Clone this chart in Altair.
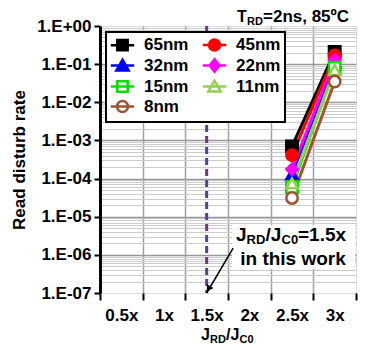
import altair as alt
import pandas as pd

FONT = "Liberation Sans"

# ---------------- data ----------------
categories = ["0.5x", "1x", "1.5x", "2x", "2.5x", "3x"]
series = ["65nm", "45nm", "32nm", "22nm", "15nm", "11nm", "8nm"]
colors = ["#000000", "#ff0000", "#0000ff", "#ff00ff", "#00e000", "#92d050", "#a0522d"]
shapes = ["square", "circle", "triangle-up", "diamond", "square", "triangle-up", "circle"]
hollow = [False, False, False, False, True, True, True]
x_points = ["2.5x", "3x"]
rate_25x = [7.0e-4, 4.1e-4, 1.3e-4, 1.75e-4, 6.0e-5, 7.5e-5, 3.1e-5]
rate_3x = [0.21, 0.17, 0.113, 0.128, 0.079, 0.070, 0.035]
y_decades = [1e0, 1e-1, 1e-2, 1e-3, 1e-4, 1e-5, 1e-6, 1e-7]
y_labels = ["1.E+00", "1.E-01", "1.E-02", "1.E-03", "1.E-04", "1.E-05", "1.E-06", "1.E-07"]
marker_x = "1.5x"
arrow_x = [3.12, 2.5]
arrow_y = [1.5e-6, 1e-7]

# ---------------- tables ----------------
rows = []
for s, c, h, r1, r2 in zip(series, colors, hollow, rate_25x, rate_3x):
    for xc, r in zip(x_points, [r1, r2]):
        rows.append({"series": s, "xpos": categories.index(xc) + 0.5, "rate": r})
df = pd.DataFrame(rows)

n_cat = len(categories)
x_vals = list(range(n_cat + 1))
x_label_expr = "''"
for i in reversed(range(n_cat)):
    x_label_expr = f"datum.value == {i} ? '{categories[i]}' : " + x_label_expr

y_vals = [1e0]
for d in y_decades[1:]:
    y_vals += [k * d for k in range(1, 10)]
y_label_expr = "''"
for d, lab in zip(reversed(y_decades), reversed(y_labels)):
    y_label_expr = f"abs(datum.value - {d}) < {d * 1e-6} ? '{lab}' : " + y_label_expr
is_decade = "abs(log(datum.value)/LN10 - round(log(datum.value)/LN10)) < 1e-6"

W, H = 256, 267
x_scale = alt.Scale(domain=[0, n_cat], nice=False, zero=False)
y_scale = alt.Scale(type="log", domain=[y_decades[-1], y_decades[0]], nice=False)

x_axis = alt.Axis(
    values=x_vals, labelExpr=x_label_expr, title=None, domain=False,
    labelFont=FONT, labelFontSize=17, labelFontWeight="bold", labelColor="black",
    labelOffset=W / n_cat / 2, labelPadding=7, labelOverlap=False, labelBound=False, labelFlush=False,
    ticks=True, tickColor="black", tickWidth=2, tickSize=7, tickOpacity=1,
    grid=True, gridColor="#a0a0a0", gridWidth=1.5,
    gridOpacity={"condition": {"test": f"datum.value > 0 && datum.value < {n_cat}", "value": 1},
                 "value": 0},
)
y_axis = alt.Axis(
    values=y_vals, labelExpr=y_label_expr, title="Read disturb rate",
    titleFont=FONT, titleFontSize=17, titleFontWeight="bold", titleColor="black", titlePadding=8,
    labelFont=FONT, labelFontSize=17, labelFontWeight="bold", labelColor="black",
    labelPadding=3, labelOverlap=False, labelBound=False, labelFlush=False,
    domain=True, domainColor="black", domainWidth=3,
    tickColor="black", tickWidth=2, tickSize=6,
    tickOpacity={"condition": {"test": is_decade, "value": 1}, "value": 0},
    grid=True,
    gridColor={"condition": {"test": is_decade, "value": "#999999"}, "value": "#cccccc"},
    gridWidth={"condition": {"test": is_decade, "value": 1.5}, "value": 1},
    gridOpacity={"condition": {"test": "datum.value < 0.999 && datum.value > 1.001e-7", "value": 1},
                 "value": 0},
)

# legend symbols: line + marker drawn as one custom path
paths = {
    "square": "M-0.8,-0.8H0.8V0.8H-0.8Z",
    "circle": "M-0.85,0A0.85,0.85,0,1,0,0.85,0A0.85,0.85,0,1,0,-0.85,0Z",
    "triangle-up": "M0,-0.9L0.95,0.75H-0.95Z",
    "diamond": "M0,-0.95L0.75,0L0,0.95L-0.75,0Z",
}
leg_paths = ["M-1.8,0H1.8" + paths[s] for s in shapes]
leg_fill = ["white" if h else c for h, c in zip(hollow, colors)]

legend = alt.Legend(
    title=None, orient="none", legendX=6, legendY=6, columns=2, direction="horizontal",
    padding=4, rowPadding=-2, columnPadding=8, symbolOffset=4, labelOffset=13,
    symbolSize=169, symbolStrokeWidth=2.5, symbolOpacity=1,
    labelFont=FONT, labelFontSize=17, labelFontWeight="bold", labelColor="black",
    labelExpr="datum.label == '8nm' ? '\u00a08nm\u00a0\u00a0' : datum.label + '\u00a0\u00a0'",
    strokeColor="black", fillColor="white",
)
stroke_scale = alt.Scale(domain=series, range=colors)

one = pd.DataFrame({"k": [0]})

lines = alt.Chart(df).mark_line(strokeWidth=3).encode(
    x=alt.X("xpos:Q", scale=x_scale, axis=x_axis),
    y=alt.Y("rate:Q", scale=y_scale, axis=y_axis),
    stroke=alt.Stroke("series:N", scale=stroke_scale, legend=legend),
    order="xpos:Q",
)

point_layers = []
for s, c, h, shp in zip(series, colors, hollow, shapes):
    point_layers.append(
        alt.Chart(df).transform_filter(alt.datum.series == s).mark_point(
            shape=shp, size=130, strokeWidth=2.5, opacity=1,
            fill="white" if h else c, stroke=c, filled=False,
        ).encode(x="xpos:Q", y="rate:Q")
    )

legend_layer = alt.Chart(df).mark_point(size=169, strokeWidth=2.5).encode(
    x="xpos:Q", y="rate:Q",
    shape=alt.Shape("series:N", scale=alt.Scale(domain=series, range=leg_paths), legend=legend),
    stroke=alt.Stroke("series:N", scale=stroke_scale, legend=legend),
    fill=alt.Fill("series:N", scale=alt.Scale(domain=series, range=leg_fill), legend=legend),
    opacity=alt.value(0),
)

vline = alt.Chart(pd.DataFrame({"xpos": [categories.index(marker_x) + 0.5]})).mark_rule(
    color="#7030a0", strokeWidth=3, strokeDash=[7, 4]
).encode(x="xpos:Q")

box = alt.Chart(one).mark_rect(color="white").encode(
    x=alt.value(132), x2=alt.value(255), y=alt.value(199), y2=alt.value(243))

arrow_df = pd.DataFrame({"xpos": arrow_x, "rate": arrow_y, "o": [0, 1]})
arrow = alt.Chart(arrow_df).mark_line(color="black", strokeWidth=1.5).encode(
    x="xpos:Q", y="rate:Q", order="o:Q")
head = alt.Chart(one).mark_point(
    shape="triangle-up", angle=211, size=60, filled=True, color="black", opacity=1
).encode(x=alt.value(108.5), y=alt.value(263))


def txt(s, x, y, size, align="left"):
    return alt.Chart(one).mark_text(
        text=s, font=FONT, fontSize=size, fontWeight="bold", align=align,
        baseline="alphabetic", color="black"
    ).encode(x=alt.value(x), y=alt.value(y))


texts = [
    # title T_RD=2ns, 85ºC
    txt("T", 137, -4, 16), txt("RD", 147, -1, 11), txt("=2ns, 85ºC", 163, -4, 17),
    # x-axis title J_RD/J_C0
    txt("J", 101, 314, 16), txt("RD", 110, 317, 11), txt("/J", 126, 314, 16), txt("C0", 139.5, 317, 11),
    # annotation
    txt("J", 136, 215, 19), txt("RD", 146.5, 218, 13), txt("/J", 165.5, 215, 19),
    txt("C0", 181.5, 218, 13), txt("=1.5x", 198, 215, 19),
    txt("in this work", 193, 239, 19, "center"),
]

chart = alt.layer(lines, vline, *point_layers, legend_layer, box, arrow, head, *texts).properties(
    width=W, height=H,
    autosize=alt.AutoSizeParams(type="none"),
    padding={"left": 92, "top": 18, "right": 7, "bottom": 56},
).configure_view(stroke="black", strokeWidth=2).configure(font=FONT).configure_legend(strokeWidth=2)

chart.save("out.html", embed_options={"renderer": "svg", "actions": False})
